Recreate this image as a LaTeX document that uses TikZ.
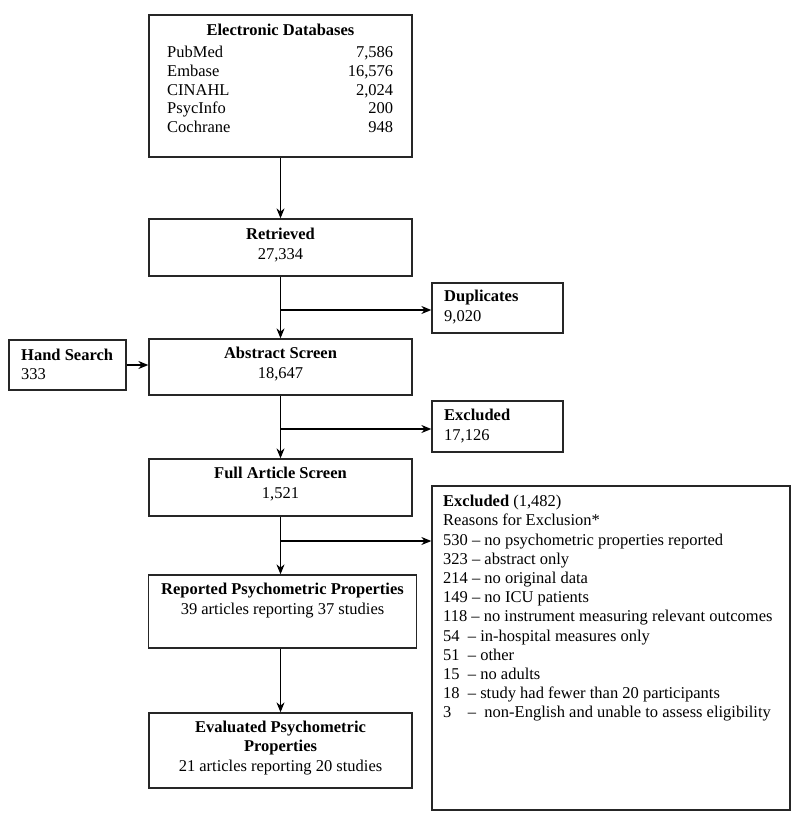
\documentclass[tikz,border=0pt]{standalone}
\usepackage{fontspec}
\setmainfont{Liberation Serif}
\usetikzlibrary{arrows.meta}
\begin{document}
\begin{tikzpicture}[x=1pt,y=-1pt,
  box/.style={draw=black!85,line width=1.3pt,inner sep=0pt},
  txt/.style={inner sep=0pt,font=\fontsize{16.5}{19.2}\selectfont},
  arr/.style={draw=black,line width=1.2pt,-{Stealth[length=10pt,width=8pt]}}]
\useasboundingbox[fill=white] (0,0) rectangle (800,830);
% boxes
\node[box,minimum width=263pt,minimum height=142pt] (edb) at (280.5,86) {};
\node[box,minimum width=263pt,minimum height=57pt] (ret) at (280.5,247.5) {};
\node[box,minimum width=131pt,minimum height=50pt] (dup) at (497.5,308) {};
\node[box,minimum width=117pt,minimum height=50pt] (hand) at (67.5,365) {};
\node[box,minimum width=263pt,minimum height=56pt] (abs) at (280.5,367) {};
\node[box,minimum width=131pt,minimum height=51pt] (exa) at (497.5,426.5) {};
\node[box,minimum width=263pt,minimum height=57pt] (full) at (280.5,487.5) {};
\node[box,minimum width=358pt,minimum height=324pt] (exb) at (611,648) {};
\node[box,minimum width=268pt,minimum height=73pt] (rep) at (282.5,611.5) {};
\node[box,minimum width=263pt,minimum height=75pt] (eva) at (280.5,750.5) {};
% texts
\node[txt,anchor=mid] (edbt) at (280.5,33) {\bfseries Electronic Databases};
\node[txt,anchor=north west] (edbl) at (167,44) {\def\arraystretch{0.98}\begin{tabular*}{226pt}{@{}l@{\extracolsep{\fill}}r@{}}
PubMed & 7,586\\
Embase & 16,576\\
CINAHL & 2,024\\
PsycInfo & 200\\
Cochrane & 948
\end{tabular*}};
\node[txt,align=center] (rett) at (280.5,245) {\textbf{Retrieved}\\27,334};
\node[txt,align=left,anchor=west] (dupt) at (444,307) {\textbf{Duplicates}\\9,020};
\node[txt,align=left,anchor=west] (handt) at (21,364) {\textbf{Hand Search}\\333};
\node[txt,align=center] (abst) at (280.5,364) {\textbf{Abstract Screen}\\18,647};
\node[txt,align=left,anchor=west] (exat) at (444,426) {\textbf{Excluded}\\17,126};
\node[txt,align=center] (fullt) at (280.5,484) {\textbf{Full Article Screen}\\1,521};
\node[txt,align=center] (rept) at (282.5,600.5) {\textbf{Reported Psychometric Properties}\\39 articles reporting 37 studies};
\node[txt,align=center] (evat) at (280.5,748) {\textbf{Evaluated Psychometric}\\\textbf{Properties}\\21 articles reporting 20 studies};
\node[txt,align=left,anchor=north west] (exbt) at (443,495) {\textbf{Excluded} (1,482)\\
Reasons for Exclusion*\\
530 – no psychometric properties reported\\
323 – abstract only\\
214 – no original data\\
149 – no ICU patients\\
118 – no instrument measuring relevant outcomes\\
54\ \ – in-hospital measures only\\
51\ \ – other\\
15\ \ – no adults\\
18\ \ – study had fewer than 20 participants\\
3\ \ \ \ –\ \ non-English and unable to assess eligibility};
% connectors
\coordinate (b1) at (280.5,310);
\coordinate (b2) at (280.5,429);
\coordinate (b3) at (280.5,541);
\draw[arr] (edb.south) -- (ret.north);
\draw[arr] (ret.south) -- (abs.north);
\draw[arr] (b1) -- (b1 -| dup.west);
\draw[arr] (abs.south) -- (full.north);
\draw[arr] (b2) -- (b2 -| exa.west);
\draw[arr] (full.south) -- (rep.north -| full.south);
\draw[arr] (b3) -- (b3 -| exb.west);
\draw[arr] (rep.south -| eva.north) -- (eva.north);
\draw[arr] (hand.east) -- (hand.east -| abs.west);
\end{tikzpicture}
\end{document}
